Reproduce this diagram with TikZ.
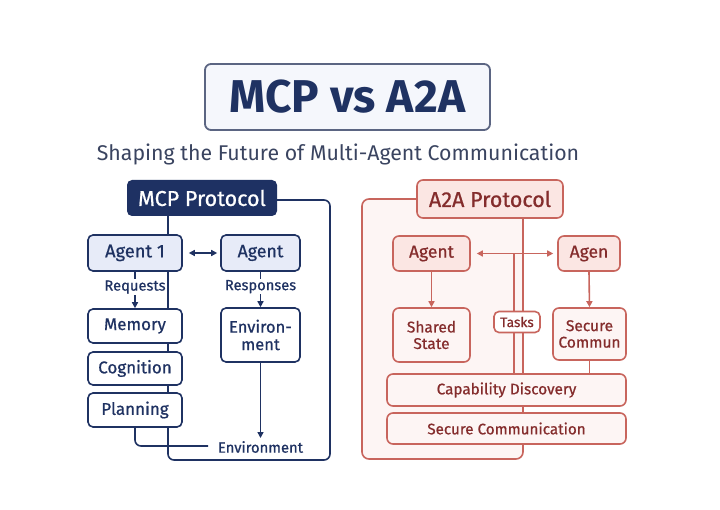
\documentclass[tikz,border=0pt]{standalone}
\usepackage{fontspec}
\setmainfont{Fira Sans}
\newfontfamily\medfont{Fira Sans}[FakeBold=0.7]
\usetikzlibrary{arrows.meta}
\definecolor{navy}{HTML}{1F3262}
\definecolor{navyhead}{HTML}{1E3163}
\definecolor{bluefill}{HTML}{E7EBF8}
\definecolor{titlefill}{HTML}{F5F7FC}
\definecolor{titleline}{HTML}{5B6582}
\definecolor{subgray}{HTML}{3A4460}
\definecolor{redline}{HTML}{C8655D}
\definecolor{redtext}{HTML}{842C2C}
\definecolor{pinkfill}{HTML}{FBE6E3}
\definecolor{pinkbg}{HTML}{FDF5F4}
\newcommand{\fs}[1]{\medfont\fontsize{#1}{#1}\selectfont}
\tikzset{
  mbox/.style={draw=navy, line width=1.6pt, rounded corners=5pt, fill=white, text=navy,
    font=\fs{17}, inner sep=0pt, align=center},
  mboxb/.style={mbox, fill=bluefill},
  rbox/.style={draw=redline, line width=1.6pt, rounded corners=6pt, fill=pinkfill, text=redtext,
    font=\fs{17}, inner sep=0pt, align=center},
  mlab/.style={fill=white, text=navy, font=\fs{14.7}, inner sep=1pt},
  mline/.style={draw=navy, line width=1.6pt},
  rline/.style={draw=redline, line width=1.6pt},
  tip/.style={-{Triangle[length=6pt,width=6pt]}},
  dtip/.style={{Triangle[length=6pt,width=6pt]}-{Triangle[length=6pt,width=6pt]}},
}
\begin{document}
\begin{tikzpicture}[x=1pt,y=-1pt]
\useasboundingbox (0,0) rectangle (720,510);
\fill[white] (0,0) rectangle (720,510);
% title
\node[draw=titleline, line width=1.8pt, rounded corners=6pt, fill=titlefill, text=navy,
  minimum width=285pt, minimum height=66pt, inner sep=0pt,
  font=\fontsize{46}{50}\selectfont\bfseries] (title) at (347.5,97) {MCP vs A2A};
\node[text=subgray, font=\fontsize{21.3}{24}\selectfont, inner sep=0pt] (sub) at (338,154) {Shaping the Future of Multi-Agent Communication};

% ---------- MCP side ----------
\draw[mline, rounded corners=6pt] (168,200) -- (330,200) -- (330,460) -- (168,460) -- cycle;
\draw[mline, rounded corners=6pt] (135,427) -- (135,446) -- (208,446);
\node[fill=navyhead, rounded corners=5pt, text=white, minimum width=150pt, minimum height=36pt,
  inner sep=0pt, font=\fs{21.5}] (mcp) at (202,198) {MCP Protocol};
\node[mboxb, minimum width=94pt, minimum height=36pt, font=\fs{18.3}] (a1) at (135,253) {Agent 1};
\node[mboxb, minimum width=79pt, minimum height=36pt, font=\fs{17.8}] (a2) at (260.5,253) {Agent};
\node[mbox, minimum width=94pt, minimum height=34pt] (mem) at (135,326) {Memory};
\node[mbox, minimum width=94pt, minimum height=33pt] (cog) at (135,368.5) {Cognition};
\node[mbox, minimum width=94pt, minimum height=34pt] (plan) at (135,410) {Planning};
\node[mbox, minimum width=79pt, minimum height=54pt, font=\fs{16.5}] (env) at (260.5,335) {Environ-\\[1pt]ment};
\node[text=navy, font=\fs{14.8}, inner sep=1pt] (envt) at (260.5,447) {Environment};
\coordinate (envend) at (260.5,438);
\draw[mline, dtip] ([xshift=6pt]a1.east) -- ([xshift=-3pt]a2.west);
\draw[mline, tip] (a1.south) -- (mem.north) node[mlab, pos=0.42] (req) {Requests};
\draw[mline, tip] (a2.south) -- (env.north) node[mlab, pos=0.42] (resp) {Responses};
\draw[mline, tip] (env.south) -- (envend);

% ---------- A2A side ----------
\draw[rline, fill=pinkbg, rounded corners=7pt] (362,199) rectangle (523,459);
\node[rbox, minimum width=146pt, minimum height=38pt, font=\fs{21.5}] (a2a) at (490,199) {A2A Protocol};
\node[rbox, minimum width=77pt, minimum height=35pt, font=\fs{17.5}] (ra1) at (431.5,253.5) {Agent};
\node[rbox, minimum width=62pt, minimum height=35pt, font=\fs{17.5}] (ra2) at (589,253.5) {Agen};
\coordinate (tasktop) at (514,253.5);
\coordinate (taskbot) at (514,375);
\draw[rline] (tasktop) -- (taskbot);
\draw[rline, dtip] ([xshift=6pt]ra1.east) -- ([xshift=-4pt]ra2.west);
\node[draw=redline, line width=1.6pt, rounded corners=5pt, fill=white, text=redtext,
  font=\fs{13.7}, minimum width=46pt, minimum height=21pt, inner sep=0pt] (tasks) at (517,322) {Tasks};
\node[rbox, fill=pinkbg, minimum width=77pt, minimum height=54pt, font=\fs{15.5}] (shared) at (431.5,335) {Shared\\[1pt]State};
\node[rbox, fill=pinkbg, minimum width=73pt, minimum height=52pt, font=\fs{15.5}] (secc) at (589.5,334) {Secure\\[1pt]Commun};
\draw[rline, tip] (ra1.south) -- (shared.north);
\draw[rline, tip] (ra2.south) -- (secc.north);
\node[rbox, fill=pinkbg, minimum width=239pt, minimum height=32pt, font=\fs{15.3}] (cap) at (506.5,390) {Capability Discovery};
\node[rbox, fill=pinkbg, minimum width=239pt, minimum height=31pt, font=\fs{15.2}] (secm) at (506.5,428.5) {Secure Communication};
\draw[rline] (secc.south) -- (secc.south |- cap.north);
\end{tikzpicture}
\end{document}
